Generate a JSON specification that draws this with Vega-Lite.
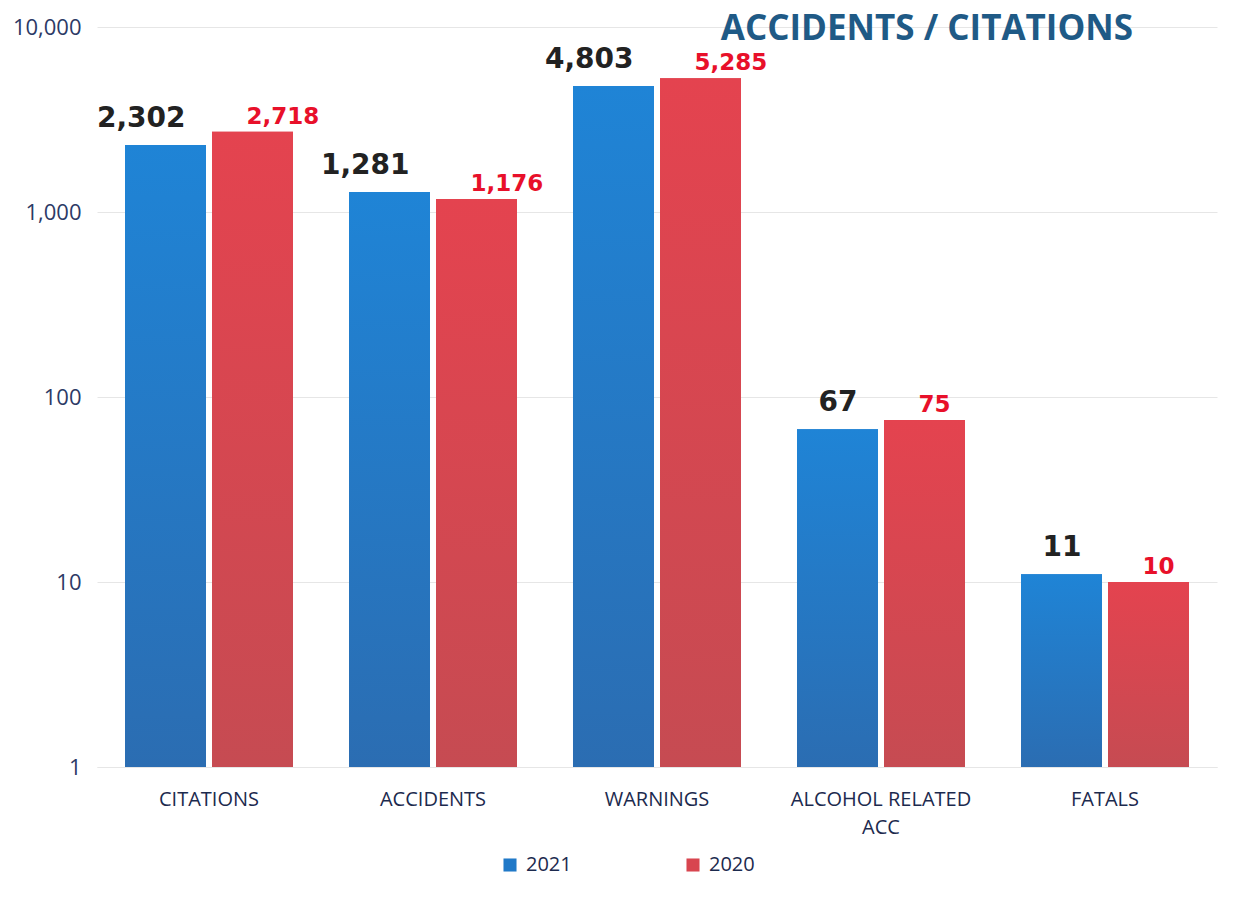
{
  "$schema": "https://vega.github.io/schema/vega-lite/v6.json",
  "width": 1120,
  "height": 740,
  "autosize": "none",
  "padding": {"left": 97, "top": 27, "right": 26, "bottom": 131},
  "background": "white",
  "title": {
    "text": "ACCIDENTS / CITATIONS",
    "anchor": "end",
    "frame": "group",
    "dx": -84,
    "offset": -31,
    "font": "Open Sans",
    "fontSize": 35,
    "fontWeight": "bold",
    "color": "#1f5a86"
  },
  "data": {
    "values": [
      {"category": "CITATIONS", "year": "2021", "value": 2302},
      {"category": "CITATIONS", "year": "2020", "value": 2718},
      {"category": "ACCIDENTS", "year": "2021", "value": 1281},
      {"category": "ACCIDENTS", "year": "2020", "value": 1176},
      {"category": "WARNINGS", "year": "2021", "value": 4803},
      {"category": "WARNINGS", "year": "2020", "value": 5285},
      {"category": "ALCOHOL RELATED ACC", "year": "2021", "value": 67},
      {"category": "ALCOHOL RELATED ACC", "year": "2020", "value": 75},
      {"category": "FATALS", "year": "2021", "value": 11},
      {"category": "FATALS", "year": "2020", "value": 10}
    ]
  },
  "encoding": {
    "x": {
      "field": "category",
      "type": "nominal",
      "sort": null,
      "scale": {"paddingInner": 0.25, "paddingOuter": 0.125},
      "axis": {
        "title": null,
        "labelAngle": 0,
        "labelFont": "Open Sans",
        "labelFontSize": 20,
        "labelColor": "#1c2a4e",
        "labelPadding": 22,
        "labelLineHeight": 28,
        "labelLimit": 0,
        "ticks": false,
        "domainColor": "#e6e6e6",
        "labelExpr": "datum.value == 'ALCOHOL RELATED ACC' ? ['ALCOHOL RELATED', 'ACC'] : datum.value"
      }
    },
    "xOffset": {
      "field": "year",
      "type": "nominal",
      "sort": ["2021", "2020"],
      "scale": {"paddingInner": 0.069, "paddingOuter": 0}
    },
    "y": {
      "field": "value",
      "type": "quantitative",
      "stack": null,
      "scale": {"type": "log", "domain": [1, 10000], "nice": false},
      "axis": {
        "title": null,
        "values": [1, 10, 100, 1000, 10000],
        "format": ",",
        "labelFont": "Open Sans",
        "labelFontSize": 22,
        "labelColor": "#2c3a66",
        "labelPadding": 16,
        "ticks": false,
        "domain": false,
        "gridColor": "#e6e6e6",
        "gridWidth": 1
      }
    }
  },
  "layer": [
    {
      "mark": {"type": "bar"},
      "encoding": {
        "y2": {"datum": 1},
        "color": {
          "field": "year",
          "type": "nominal",
          "sort": ["2021", "2020"],
          "scale": {"domain": ["2021", "2020"], "range": ["#2079c8", "#d8454f"]},
          "legend": {
            "title": null,
            "orient": "none",
            "legendX": 403,
            "legendY": 828,
            "direction": "horizontal",
            "symbolType": "square",
            "symbolSize": 170,
            "symbolStrokeWidth": 0,
            "labelFont": "Open Sans",
            "labelFontSize": 20,
            "labelColor": "#1c2a4e",
            "columnPadding": 111,
            "labelOffset": 6
          }
        }
      }
    },
    {
      "transform": [{"filter": "datum.year == '2021'"}],
      "mark": {
        "type": "bar",
        "color": {
          "gradient": "linear", "x1": 0, "y1": 0, "x2": 0, "y2": 1,
          "stops": [{"offset": 0, "color": "#1f84d6"}, {"offset": 1, "color": "#2b6db2"}]
        }
      },
      "encoding": {"y2": {"datum": 1}}
    },
    {
      "transform": [{"filter": "datum.year == '2020'"}],
      "mark": {
        "type": "bar",
        "color": {
          "gradient": "linear", "x1": 0, "y1": 0, "x2": 0, "y2": 1,
          "stops": [{"offset": 0, "color": "#e4434f"}, {"offset": 1, "color": "#c64b52"}]
        }
      },
      "encoding": {"y2": {"datum": 1}}
    },
    {
      "transform": [{"filter": "datum.year == '2021'"}],
      "mark": {
        "type": "text",
        "font": "DejaVu Sans",
        "fontWeight": "bold",
        "fontSize": 28,
        "color": "#222222",
        "baseline": "alphabetic",
        "align": "right",
        "dy": -18,
        "dx": 20
      },
      "encoding": {"text": {"field": "value", "type": "quantitative", "format": ","}}
    },
    {
      "transform": [{"filter": "datum.year == '2020'"}],
      "mark": {
        "type": "text",
        "font": "DejaVu Sans",
        "fontWeight": "bold",
        "fontSize": 23,
        "color": "#e8102a",
        "baseline": "alphabetic",
        "align": "left",
        "dy": -8,
        "dx": -6
      },
      "encoding": {"text": {"field": "value", "type": "quantitative", "format": ","}}
    }
  ],
  "config": {"view": {"stroke": null}}
}
